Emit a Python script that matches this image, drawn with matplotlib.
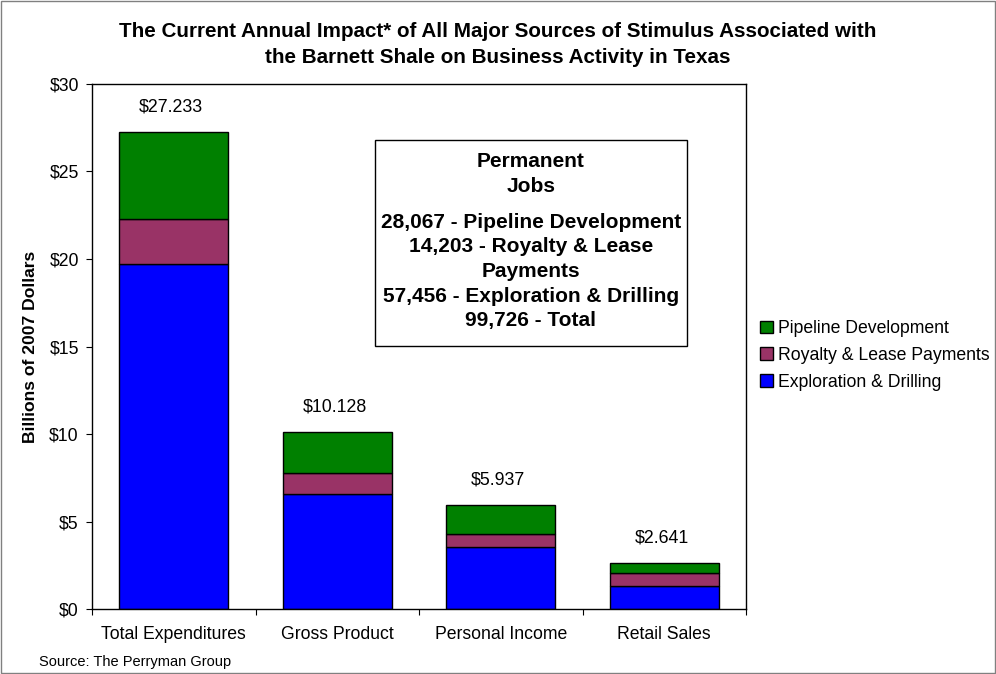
import numpy as np
import matplotlib.pyplot as plt
from matplotlib.patches import Rectangle

plt.rcParams['font.family'] = ['Liberation Sans', 'DejaVu Sans']

categories = ['Total Expenditures', 'Gross Product', 'Personal Income', 'Retail Sales']
exploration = [19.73, 6.55, 3.56, 1.31]
royalty = [2.57, 1.22, 0.74, 0.73]
totals = [27.233, 10.128, 5.937, 2.641]
pipeline = [t - e - r for t, e, r in zip(totals, exploration, royalty)]
total_labels = ['$27.233', '$10.128', '$5.937', '$2.641']
yticks = [0, 5, 10, 15, 20, 25, 30]

jobs_title = 'Permanent\nJobs'
jobs_text = ('28,067 - Pipeline Development\n14,203 - Royalty & Lease\nPayments\n'
             '57,456 - Exploration & Drilling\n99,726 - Total')

fig = plt.figure(figsize=(9.96, 6.74), dpi=100)
ax = fig.add_axes([0.0924, 0.0964, 0.6566, 0.779])

x = np.arange(len(categories))
w = 0.667
bottom2 = np.array(exploration) + np.array(royalty)
b1 = ax.bar(x, exploration, w, color='#0000ff', edgecolor='black', linewidth=1,
            label='Exploration & Drilling')
b2 = ax.bar(x, royalty, w, bottom=exploration, color='#993366', edgecolor='black',
            linewidth=1, label='Royalty & Lease Payments')
b3 = ax.bar(x, pipeline, w, bottom=bottom2, color='#008000', edgecolor='black',
            linewidth=1, label='Pipeline Development')

# total labels above each stack
for xi, t, lab in zip(x, totals, total_labels):
    ax.annotate(lab, (xi, t), xytext=(-2, 18), textcoords='offset points',
                ha='center', va='center', fontsize=12.8)

ax.set_xlim(-0.5, len(categories) - 0.5)
ax.set_ylim(0, 30)
ax.set_yticks(yticks)
ax.set_yticklabels(['$%d' % v for v in yticks], fontsize=12.7)
ax.set_xticks(np.arange(len(categories) + 1) - 0.5)
ax.set_xticklabels([''] * (len(categories) + 1))
ax.set_xticks(x, minor=True)
ax.set_xticklabels(categories, minor=True, fontsize=12.7)
ax.tick_params(axis='x', which='minor', length=0, pad=12)
ax.tick_params(axis='x', which='major', length=4.5, direction='out')
ax.tick_params(axis='y', length=4.5, pad=5, direction='out')
ax.set_ylabel('Billions of 2007 Dollars', fontsize=12.6, fontweight='bold')
ax.yaxis.set_label_coords(-0.0826, 0.5)
for s in ax.spines.values():
    s.set_linewidth(1)

# jobs box
ax.text(0.671, 0.8295, jobs_title, transform=ax.transAxes, ha='center', va='center',
        multialignment='center', fontsize=15, fontweight='bold', linespacing=1.4)
ax.text(0.671, 0.643, jobs_text, transform=ax.transAxes, ha='center', va='center',
        multialignment='center', fontsize=15, fontweight='bold', linespacing=1.38)
ax.add_patch(Rectangle((0.4327, 0.501), 0.477, 0.392, transform=ax.transAxes,
                       fill=False, edgecolor='black', linewidth=1))

handles = [b3, b2, b1]
fig.legend(handles, [h.get_label() for h in handles], loc='upper left',
           bbox_to_anchor=(0.763, 0.525), frameon=False, fontsize=12.7,
           handlelength=0.75, handleheight=0.75, handletextpad=0.3,
           labelspacing=0.55, borderaxespad=0, borderpad=0)

fig.text(0.5, 0.9335, 'The Current Annual Impact* of All Major Sources of Stimulus Associated with\n'
         'the Barnett Shale on Business Activity in Texas',
         ha='center', va='center', fontsize=14.9, fontweight='bold', linespacing=1.45)
fig.text(0.039, 0.0178, 'Source: The Perryman Group', fontsize=10.5, va='center')
fig.add_artist(Rectangle((0.001, 0.001), 0.998, 0.998, transform=fig.transFigure,
                         fill=False, edgecolor='#808080', linewidth=1))

fig.savefig('out.png', dpi=100)
